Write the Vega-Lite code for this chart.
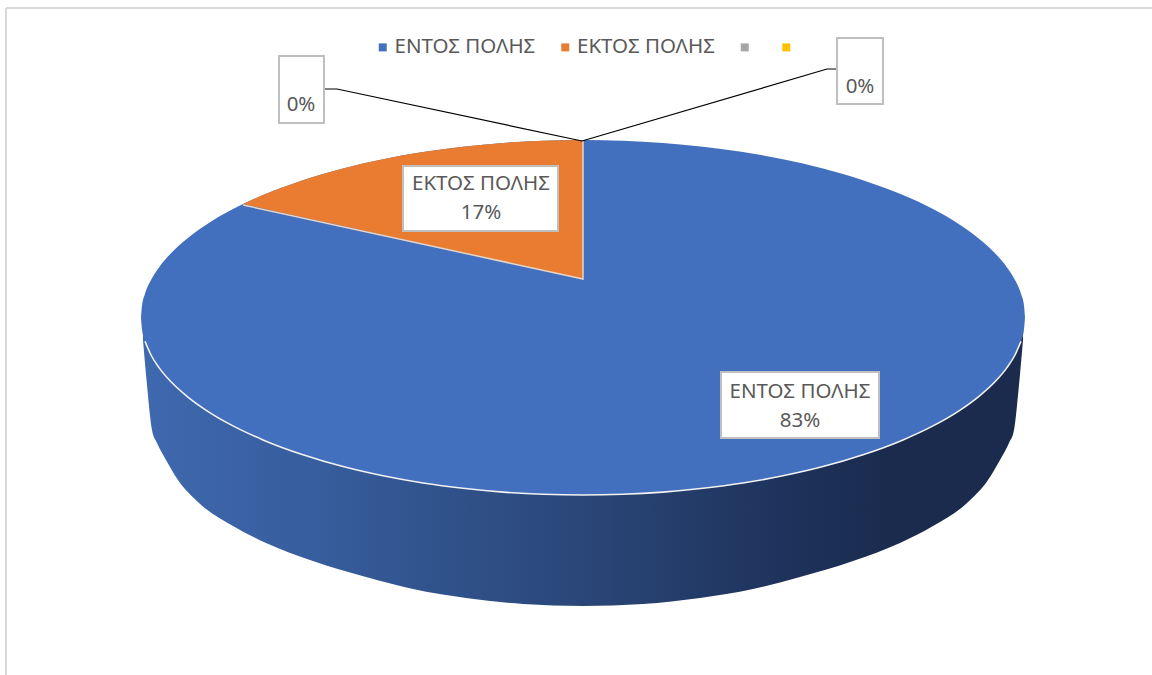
{
  "$schema": "https://vega.github.io/schema/vega-lite/v6.json",
  "width": 1152,
  "height": 675,
  "padding": 0,
  "autosize": {"type": "none"},
  "background": "white",
  "config": {"view": {"stroke": null}, "text": {"font": "Noto Sans"}},
  "datasets": {
    "frame": [
      {"x": 6, "x2": 1152, "y": 8, "y2": 8},
      {"x": 6, "x2": 6, "y": 8, "y2": 675}
    ],
    "wall": [
      {"x": 143, "y": 317, "y2": 340}, {"x": 147, "y": 317, "y2": 385}, {"x": 152, "y": 317, "y2": 430},
      {"x": 157, "y": 317, "y2": 443}, {"x": 166, "y": 317, "y2": 460}, {"x": 178, "y": 317, "y2": 480},
      {"x": 199, "y": 317, "y2": 503}, {"x": 233, "y": 317, "y2": 526}, {"x": 266, "y": 317, "y2": 543},
      {"x": 313, "y": 317, "y2": 561}, {"x": 366, "y": 317, "y2": 577}, {"x": 413, "y": 317, "y2": 589},
      {"x": 466, "y": 317, "y2": 598}, {"x": 523, "y": 317, "y2": 604}, {"x": 583, "y": 317, "y2": 606},
      {"x": 643, "y": 317, "y2": 604}, {"x": 700, "y": 317, "y2": 598}, {"x": 753, "y": 317, "y2": 589},
      {"x": 800, "y": 317, "y2": 577}, {"x": 853, "y": 317, "y2": 561}, {"x": 900, "y": 317, "y2": 543},
      {"x": 933, "y": 317, "y2": 526}, {"x": 967, "y": 317, "y2": 503}, {"x": 988, "y": 317, "y2": 480},
      {"x": 1000, "y": 317, "y2": 460}, {"x": 1009, "y": 317, "y2": 443}, {"x": 1014, "y": 317, "y2": 430},
      {"x": 1019, "y": 317, "y2": 385}, {"x": 1023, "y": 317, "y2": 340}
    ],
    "topFace": [
      {"series": "ΕΝΤΟΣ ΠΟΛΗΣ", "x": 141, "y": 317.5, "y2": 317.5},
      {"series": "ΕΝΤΟΣ ΠΟΛΗΣ", "x": 142, "y": 305.6, "y2": 329.4},
      {"series": "ΕΝΤΟΣ ΠΟΛΗΣ", "x": 145, "y": 293.7, "y2": 341.3},
      {"series": "ΕΝΤΟΣ ΠΟΛΗΣ", "x": 151, "y": 280, "y2": 355},
      {"series": "ΕΝΤΟΣ ΠΟΛΗΣ", "x": 159, "y": 267.4, "y2": 367.6},
      {"series": "ΕΝΤΟΣ ΠΟΛΗΣ", "x": 171, "y": 253.2, "y2": 381.8},
      {"series": "ΕΝΤΟΣ ΠΟΛΗΣ", "x": 187, "y": 238.7, "y2": 396.3},
      {"series": "ΕΝΤΟΣ ΠΟΛΗΣ", "x": 207, "y": 224.2, "y2": 410.8},
      {"series": "ΕΝΤΟΣ ΠΟΛΗΣ", "x": 233, "y": 209.1, "y2": 425.9},
      {"series": "ΕΝΤΟΣ ΠΟΛΗΣ", "x": 263, "y": 195.1, "y2": 439.9},
      {"series": "ΕΝΤΟΣ ΠΟΛΗΣ", "x": 303, "y": 180.2, "y2": 454.8},
      {"series": "ΕΝΤΟΣ ΠΟΛΗΣ", "x": 343, "y": 168.4, "y2": 466.6},
      {"series": "ΕΝΤΟΣ ΠΟΛΗΣ", "x": 383, "y": 159.2, "y2": 475.8},
      {"series": "ΕΝΤΟΣ ΠΟΛΗΣ", "x": 423, "y": 152, "y2": 483},
      {"series": "ΕΝΤΟΣ ΠΟΛΗΣ", "x": 463, "y": 146.7, "y2": 488.3},
      {"series": "ΕΝΤΟΣ ΠΟΛΗΣ", "x": 503, "y": 142.9, "y2": 492.1},
      {"series": "ΕΝΤΟΣ ΠΟΛΗΣ", "x": 543, "y": 140.7, "y2": 494.3},
      {"series": "ΕΝΤΟΣ ΠΟΛΗΣ", "x": 583, "y": 140, "y2": 495},
      {"series": "ΕΝΤΟΣ ΠΟΛΗΣ", "x": 623, "y": 140.7, "y2": 494.3},
      {"series": "ΕΝΤΟΣ ΠΟΛΗΣ", "x": 663, "y": 142.9, "y2": 492.1},
      {"series": "ΕΝΤΟΣ ΠΟΛΗΣ", "x": 703, "y": 146.7, "y2": 488.3},
      {"series": "ΕΝΤΟΣ ΠΟΛΗΣ", "x": 743, "y": 152, "y2": 483},
      {"series": "ΕΝΤΟΣ ΠΟΛΗΣ", "x": 783, "y": 159.2, "y2": 475.8},
      {"series": "ΕΝΤΟΣ ΠΟΛΗΣ", "x": 823, "y": 168.4, "y2": 466.6},
      {"series": "ΕΝΤΟΣ ΠΟΛΗΣ", "x": 863, "y": 180.2, "y2": 454.8},
      {"series": "ΕΝΤΟΣ ΠΟΛΗΣ", "x": 903, "y": 195.1, "y2": 439.9},
      {"series": "ΕΝΤΟΣ ΠΟΛΗΣ", "x": 933, "y": 209.1, "y2": 425.9},
      {"series": "ΕΝΤΟΣ ΠΟΛΗΣ", "x": 959, "y": 224.2, "y2": 410.8},
      {"series": "ΕΝΤΟΣ ΠΟΛΗΣ", "x": 979, "y": 238.7, "y2": 396.3},
      {"series": "ΕΝΤΟΣ ΠΟΛΗΣ", "x": 995, "y": 253.2, "y2": 381.8},
      {"series": "ΕΝΤΟΣ ΠΟΛΗΣ", "x": 1007, "y": 267.4, "y2": 367.6},
      {"series": "ΕΝΤΟΣ ΠΟΛΗΣ", "x": 1015, "y": 280, "y2": 355},
      {"series": "ΕΝΤΟΣ ΠΟΛΗΣ", "x": 1021, "y": 293.7, "y2": 341.3},
      {"series": "ΕΝΤΟΣ ΠΟΛΗΣ", "x": 1024, "y": 305.6, "y2": 329.4},
      {"series": "ΕΝΤΟΣ ΠΟΛΗΣ", "x": 1025, "y": 317.5, "y2": 317.5}
    ],
    "rim": [
      {"x": 145, "y": 341.3}, {"x": 151, "y": 355}, {"x": 159, "y": 367.6}, {"x": 171, "y": 381.8},
      {"x": 187, "y": 396.3}, {"x": 207, "y": 410.8}, {"x": 233, "y": 425.9}, {"x": 263, "y": 439.9},
      {"x": 303, "y": 454.8}, {"x": 343, "y": 466.6}, {"x": 383, "y": 475.8}, {"x": 423, "y": 483},
      {"x": 463, "y": 488.3}, {"x": 503, "y": 492.1}, {"x": 543, "y": 494.3}, {"x": 583, "y": 495},
      {"x": 623, "y": 494.3}, {"x": 663, "y": 492.1}, {"x": 703, "y": 488.3}, {"x": 743, "y": 483},
      {"x": 783, "y": 475.8}, {"x": 823, "y": 466.6}, {"x": 863, "y": 454.8}, {"x": 903, "y": 439.9},
      {"x": 933, "y": 425.9}, {"x": 959, "y": 410.8}, {"x": 979, "y": 396.3}, {"x": 995, "y": 381.8},
      {"x": 1007, "y": 367.6}, {"x": 1015, "y": 355}, {"x": 1021, "y": 341.3}
    ],
    "outsideSlice": [
      {"series": "ΕΚΤΟΣ ΠΟΛΗΣ", "x": 243, "y": 204, "y2": 204},
      {"series": "ΕΚΤΟΣ ΠΟΛΗΣ", "x": 263, "y": 195.1, "y2": 208.4},
      {"series": "ΕΚΤΟΣ ΠΟΛΗΣ", "x": 303, "y": 180.2, "y2": 217.2},
      {"series": "ΕΚΤΟΣ ΠΟΛΗΣ", "x": 343, "y": 168.4, "y2": 226.1},
      {"series": "ΕΚΤΟΣ ΠΟΛΗΣ", "x": 383, "y": 159.2, "y2": 234.9},
      {"series": "ΕΚΤΟΣ ΠΟΛΗΣ", "x": 423, "y": 152, "y2": 243.7},
      {"series": "ΕΚΤΟΣ ΠΟΛΗΣ", "x": 463, "y": 146.7, "y2": 252.5},
      {"series": "ΕΚΤΟΣ ΠΟΛΗΣ", "x": 503, "y": 142.9, "y2": 261.4},
      {"series": "ΕΚΤΟΣ ΠΟΛΗΣ", "x": 543, "y": 140.7, "y2": 270.2},
      {"series": "ΕΚΤΟΣ ΠΟΛΗΣ", "x": 583, "y": 140, "y2": 279}
    ],
    "sliceEdges": [
      {"seq": 1, "x": 243, "y": 205},
      {"seq": 2, "x": 583, "y": 279},
      {"seq": 3, "x": 583, "y": 140}
    ],
    "leaders": [
      {"leader": "left", "seq": 1, "x": 324, "y": 89},
      {"leader": "left", "seq": 2, "x": 337, "y": 89},
      {"leader": "left", "seq": 3, "x": 582, "y": 141},
      {"leader": "right", "seq": 1, "x": 837, "y": 69},
      {"leader": "right", "seq": 2, "x": 827, "y": 69},
      {"leader": "right", "seq": 3, "x": 582, "y": 141}
    ],
    "labelBoxes": [
      {"x": 403, "x2": 558, "y": 166, "y2": 231},
      {"x": 721, "x2": 879, "y": 372, "y2": 438},
      {"x": 279, "x2": 324, "y": 56, "y2": 123},
      {"x": 837, "x2": 883, "y": 38, "y2": 104}
    ],
    "labelNames": [
      {"name": "ΕΚΤΟΣ ΠΟΛΗΣ", "x": 481, "y": 184},
      {"name": "ΕΝΤΟΣ ΠΟΛΗΣ", "x": 800, "y": 392}
    ],
    "labelShares": [
      {"share": 0.17, "x": 481, "y": 213},
      {"share": 0.83, "x": 800, "y": 421},
      {"share": 0, "x": 301, "y": 105},
      {"share": 0, "x": 860, "y": 87}
    ]
  },
  "encoding": {
    "x": {"field": "x", "type": "quantitative", "axis": null, "scale": {"domain": [0, 1152], "nice": false, "zero": false}},
    "y": {"field": "y", "type": "quantitative", "axis": null, "stack": null, "scale": {"domain": [0, 675], "reverse": true, "nice": false, "zero": false}}
  },
  "layer": [
    {
      "data": {"name": "frame"},
      "mark": {"type": "rule", "stroke": "#D9D9D9", "strokeWidth": 2},
      "encoding": {"x2": {"field": "x2"}, "y2": {"field": "y2"}}
    },
    {
      "data": {"name": "wall"},
      "mark": {
        "type": "area",
        "orient": "vertical",
        "interpolate": "monotone",
        "fill": {
          "gradient": "linear", "x1": 0, "x2": 1, "y1": 0, "y2": 0,
          "stops": [
            {"offset": 0, "color": "#3F69AF"},
            {"offset": 0.2, "color": "#365D9C"},
            {"offset": 0.5, "color": "#2A4678"},
            {"offset": 0.75, "color": "#1D3159"},
            {"offset": 0.85, "color": "#1A2B4D"},
            {"offset": 1, "color": "#1A2B4D"}
          ]
        }
      },
      "encoding": {"y2": {"field": "y2"}}
    },
    {
      "data": {"name": "topFace"},
      "mark": {"type": "area", "orient": "vertical", "interpolate": "monotone"},
      "encoding": {
        "y2": {"field": "y2"},
        "color": {
          "field": "series",
          "type": "nominal",
          "scale": {
            "domain": ["ΕΝΤΟΣ ΠΟΛΗΣ", "ΕΚΤΟΣ ΠΟΛΗΣ", " ", "  "],
            "range": ["#4270BE", "#E97C30", "#A5A5A5", "#FFC000"]
          },
          "legend": {
            "orient": "none",
            "legendX": 368.5,
            "legendY": 33,
            "direction": "horizontal",
            "columns": 4,
            "title": null,
            "padding": 4,
            "symbolType": "square",
            "symbolSize": 64,
            "symbolStrokeWidth": 0,
            "labelFont": "Noto Sans",
            "labelFontSize": 20.5,
            "labelColor": "#595959",
            "labelOffset": 1.5,
            "columnPadding": 19.5
          }
        }
      }
    },
    {
      "data": {"name": "outsideSlice"},
      "mark": {"type": "area", "orient": "vertical", "interpolate": "monotone"},
      "encoding": {"y2": {"field": "y2"}, "color": {"field": "series", "type": "nominal"}}
    },
    {
      "data": {"name": "rim"},
      "mark": {"type": "line", "stroke": "#F2F2F2", "strokeWidth": 1.6, "interpolate": "monotone"}
    },
    {
      "data": {"name": "sliceEdges"},
      "mark": {"type": "line", "stroke": "#E6D5C8", "strokeWidth": 1.5},
      "encoding": {"order": {"field": "seq"}}
    },
    {
      "data": {"name": "leaders"},
      "mark": {"type": "line", "stroke": "#000000", "strokeWidth": 1.2},
      "encoding": {"detail": {"field": "leader"}, "order": {"field": "seq"}}
    },
    {
      "data": {"name": "labelBoxes"},
      "mark": {"type": "rect", "fill": "white", "stroke": "#BFBFBF", "strokeWidth": 2},
      "encoding": {"x2": {"field": "x2"}, "y2": {"field": "y2"}}
    },
    {
      "data": {"name": "labelNames"},
      "mark": {"type": "text", "align": "center", "baseline": "middle", "fontSize": 20.5, "color": "#595959"},
      "encoding": {"text": {"field": "name"}}
    },
    {
      "data": {"name": "labelShares"},
      "mark": {"type": "text", "align": "center", "baseline": "middle", "fontSize": 20.5, "color": "#595959"},
      "encoding": {"text": {"field": "share", "type": "quantitative", "format": ".0%"}}
    }
  ]
}
